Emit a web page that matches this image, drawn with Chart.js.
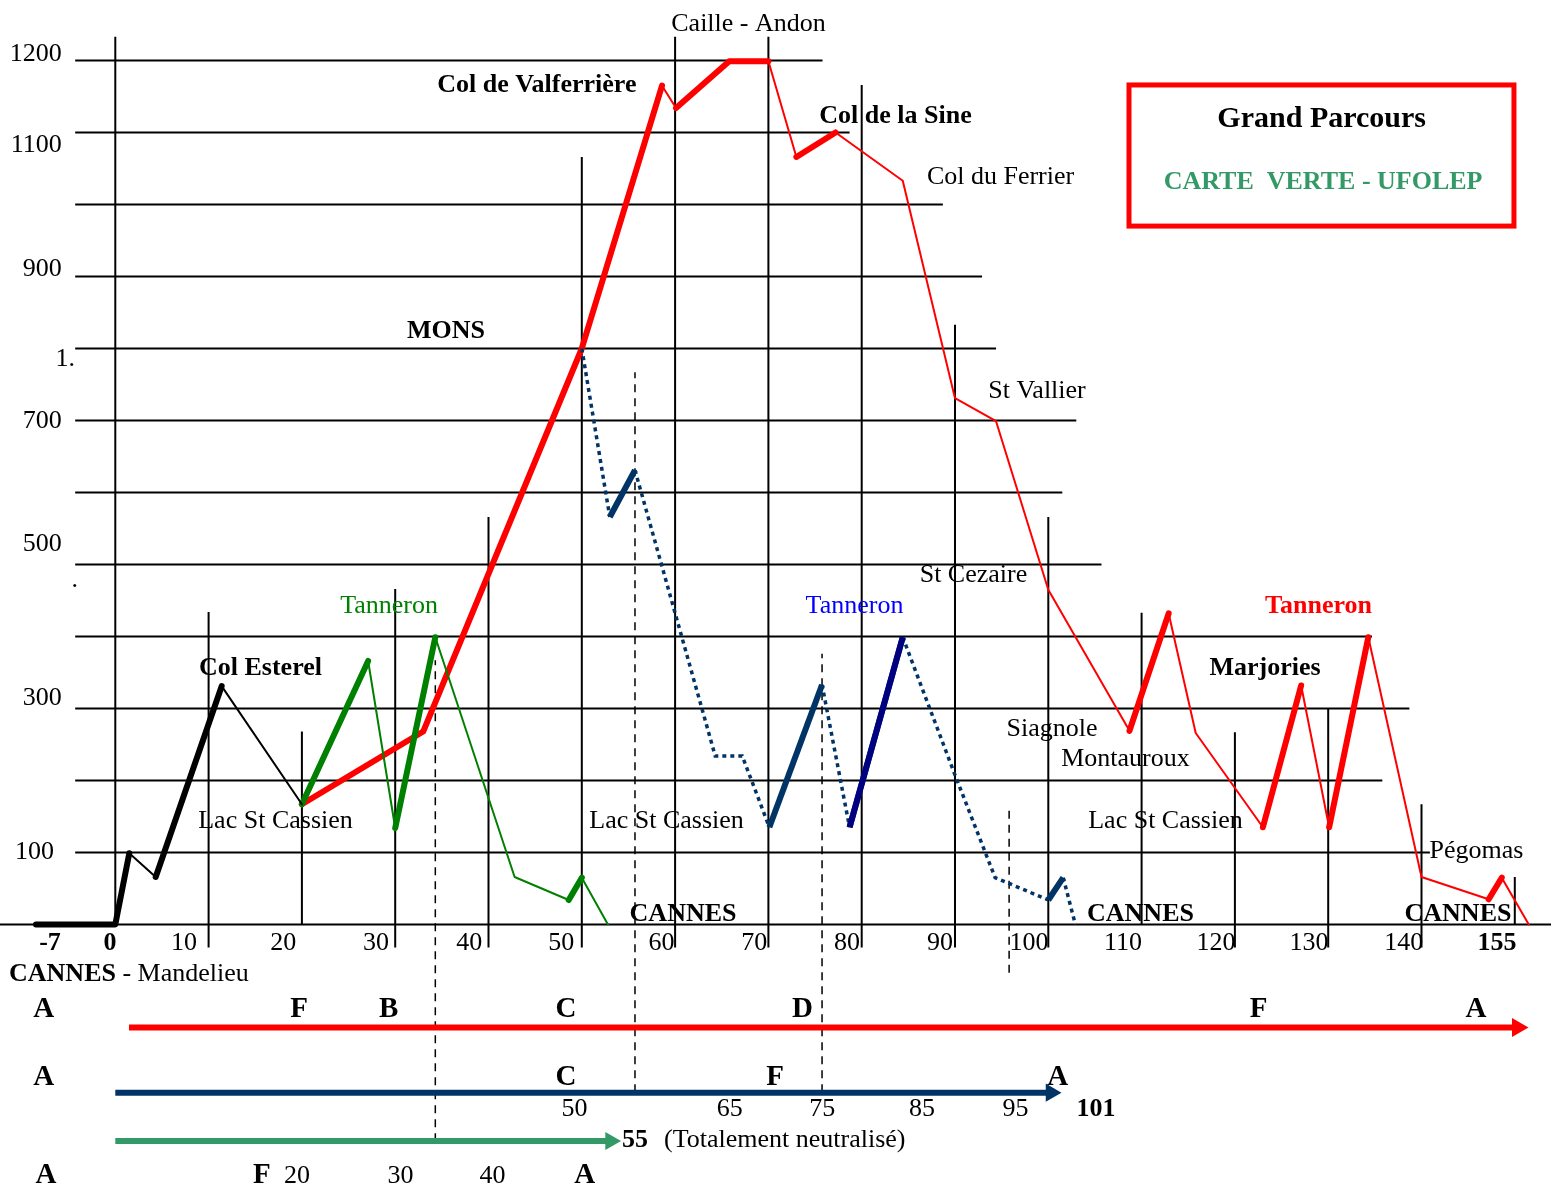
<!DOCTYPE html>
<html>
<head>
<meta charset="utf-8">
<title>Grand Parcours - profil</title>
<script src="https://cdn.jsdelivr.net/npm/chart.js@4.4.1/dist/chart.umd.min.js"></script>
<style>
  html, body { margin: 0; padding: 0; background: #fff; }
  #wrap { width: 1551px; height: 1186px; position: relative; }
</style>
</head>
<body>
<div id="wrap"><canvas id="profile"></canvas></div>
<script>
// km along the route -> altitude (m)
const blackKm  = [-8.5, 0, 1.5, 4.33, 11.4, 20];
const blackAlt = [0, 0, 99, 66, 331, 167];

const greenKm  = [20, 27.1, 30, 34.3, 42.8, 48.6, 50, 52.8];
const greenAlt = [167, 366, 134, 399, 66, 34, 65, 0];

const redKm  = [20, 33, 50, 58.6, 60.1, 65.8, 70, 73, 77.2, 84.4, 90, 94.4, 100, 108.7, 112.9, 115.8, 123, 127.1, 130.1, 134.3, 140, 147.2, 148.6, 151.5];
const redAlt = [167, 268, 800, 1165, 1134, 1199, 1199, 1066, 1100, 1033, 731, 699, 465, 269, 432, 266, 135, 332, 135, 399, 66, 35, 65, 0];

const blueKm  = [50, 53, 55.7, 64.3, 67.2, 70.1, 75.75, 78.7, 84.4, 89.9, 94.3, 95.8, 100, 101.6, 102.9];
const blueAlt = [800, 566, 631, 234, 234, 135, 333, 135, 399, 211, 65, 57, 34, 65, 0];
const navyKm  = [78.7, 84.4];
const navyAlt = [135, 399];

// grid
const gridAlt     = [1200, 1100, 1000, 900, 800, 700, 600, 500, 400, 300, 200, 100, 0];
const gridStartKm = [-4.3, -4.3, -4.3, -4.3, -4.3, -4.3, -4.3, -4.3, -4.3, -4.3, -4.3, -4.3, -12.4];
const gridEndKm   = [75.8, 78.7, 88.7, 92.9, 94.4, 103, 101.5, 105.7, 134.7, 138.7, 135.8, 140.9, 153.9];

const vLineKm     = [0, 10, 20, 30, 40, 50, 60, 70, 80, 90, 100, 110, 120, 130, 140, 150];
const vLineTop    = [1233, 434, 268, 466, 566, 1066, 1233, 1233, 1166, 833, 566, 433, 267, 300, 167, 66];
const vLineBottom = [0, -32, 0, -32, -32, -32, -32, -32, -32, -32, -32, 0, -32, -32, -32, 0];

const dashKm     = [34.3, 55.7, 75.75, 95.8];
const dashTop    = [367, 767, 376, 158];
const dashBottom = [-301, -233, -233, -67];

// routes under the profile (start km, end km)
const redRouteKm   = [1.47, 150.29];
const blueRouteKm  = [0, 100.29];
const greenRouteKm = [0, 53.08];
const routeRowAlt  = [-143, -233.6, -300.7];

// tick labels
const xTickLabels = ["-7", "0", "10", "20", "30", "40", "50", "60", "70", "80", "90", "100", "110", "120", "130", "140", "155"];
const xTickKm     = [-7.0, -0.57, 7.36, 18.0, 27.94, 37.94, 47.81, 58.53, 68.49, 78.42, 88.39, 97.93, 108.0, 117.97, 127.94, 138.1, 148.1];
const yTickLabels = ["1200", "1100", "900", "1.", "700", "500", ".", "300", "100"];
const yTickKm     = [-5.74, -5.74, -5.74, -4.32, -5.74, -5.74, -4.0, -5.74, -6.57];
const yTickAlt    = [1199.3, 1072.9, 900.7, 775.7, 689.6, 518.8, 468.7, 304.9, 91];

const row1Marks = ["A", "F", "B", "C", "D", "F", "A"];
const row1Km    = [-7.66, 19.69, 29.29, 48.31, 73.64, 122.53, 145.83];
const row2Marks = ["A", "C", "F", "A"];
const row2Km    = [-7.66, 48.31, 70.71, 101.0];
const row2Dist  = ["50", "65", "75", "85", "95"];
const row2DistKm = [49.23, 65.87, 75.78, 86.45, 96.48];
const row3Marks = ["A", "F", "20", "30", "40", "A"];
const row3Km    = [-7.43, 15.72, 19.47, 30.57, 40.43, 50.3];

const SERIF = "'Liberation Serif', 'Times New Roman', serif";
const RED = "#ff0000", GREEN = "#008000", SEA = "#339966", DARKBLUE = "#003366", NAVY = "#000080";

const places = [
  { t: "Caille - Andon", km: 67.87, alt: 1241 },
  { t: "Col de Valferrière", km: 45.18, alt: 1156, b: true },
  { t: "Col de la Sine", km: 83.62, alt: 1113, b: true },
  { t: "Col du Ferrier", km: 94.88, alt: 1028.5 },
  { t: "MONS", km: 35.44, alt: 814.6, b: true },
  { t: "St Vallier", km: 98.79, alt: 731 },
  { t: "St Cezaire", km: 91.98, alt: 475.7 },
  { t: "Tanneron", km: 79.23, alt: 432.6, c: "#0000ff" },
  { t: "Tanneron", km: 29.34, alt: 432.6, c: GREEN },
  { t: "Tanneron", km: 128.96, alt: 432.6, c: RED, b: true },
  { t: "Col Esterel", km: 15.56, alt: 346.5, b: true },
  { t: "Marjories", km: 123.23, alt: 346.5, b: true },
  { t: "Siagnole", km: 100.4, alt: 261.8 },
  { t: "Montauroux", km: 108.27, alt: 220 },
  { t: "Lac St Cassien", km: 17.17, alt: 134 },
  { t: "Lac St Cassien", km: 59.08, alt: 134 },
  { t: "Lac St Cassien", km: 112.56, alt: 134 },
  { t: "Pégomas", km: 145.9, alt: 92.4 },
  { t: "CANNES", km: 60.85, alt: 4.9, b: true },
  { t: "CANNES", km: 109.88, alt: 4.9, b: true },
  { t: "CANNES", km: 143.91, alt: 4.9, b: true }
];

function line(xs, ys, opts) {
  return Object.assign({
    data: xs.map((x, i) => ({ x: x, y: ys[i] })),
    borderColor: "#000",
    borderWidth: 2,
    pointRadius: 0,
    fill: false,
    tension: 0,
    order: 5
  }, opts);
}

const climb = c => c.p1.parsed.y >= c.p0.parsed.y;
const datasets = [];

gridAlt.forEach((a, i) => datasets.push(line([gridStartKm[i], gridEndKm[i]], [a, a], { order: 10 })));
vLineKm.forEach((k, i) => datasets.push(line([k, k], [vLineBottom[i], vLineTop[i]], { order: 10 })));
dashKm.forEach((k, i) => datasets.push(line([k, k], [dashBottom[i], dashTop[i]], { borderWidth: 1.5, borderDash: [8, 6], order: 9 })));

datasets.push(line(redKm, redAlt, {
  borderColor: RED, borderCapStyle: "round", borderJoinStyle: "round",
  segment: { borderWidth: c => climb(c) ? 6 : 2 }, order: 4
}));
datasets.push(line(blackKm, blackAlt, {
  borderCapStyle: "round", borderJoinStyle: "round",
  segment: { borderWidth: c => climb(c) ? 6 : 2 }, order: 3
}));
datasets.push(line(greenKm, greenAlt, {
  borderColor: GREEN, borderCapStyle: "round", borderJoinStyle: "round",
  segment: { borderWidth: c => climb(c) ? 6 : 2 }, order: 3
}));
datasets.push(line(blueKm, blueAlt, {
  borderColor: DARKBLUE,
  segment: {
    borderWidth: c => c.p1.parsed.y > c.p0.parsed.y ? 6 : 3.5,
    borderDash: c => c.p1.parsed.y > c.p0.parsed.y ? [] : [4, 4]
  },
  order: 2
}));
datasets.push(line(navyKm, navyAlt, { borderColor: NAVY, borderWidth: 6, order: 1 }));

function arrow(km, alt, color, r) {
  return line(km, [alt, alt], {
    borderColor: color, borderWidth: 6, order: 6,
    pointStyle: "triangle", pointRotation: 90,
    pointRadius: [0, r], pointBackgroundColor: color, pointBorderColor: color, pointBorderWidth: 0
  });
}
datasets.push(arrow(redRouteKm, routeRowAlt[0], RED, 11));
datasets.push(arrow(blueRouteKm, routeRowAlt[1], DARKBLUE, 10.5));
datasets.push(arrow(greenRouteKm, routeRowAlt[2], SEA, 10.5));

const textPlugin = {
  id: "profileText",
  afterDatasetsDraw(chart) {
    const { ctx, scales: { x, y } } = chart;
    const put = (txt, km, alt, font, color, align) => {
      ctx.font = font;
      ctx.fillStyle = color || "#000";
      ctx.textAlign = align || "center";
      ctx.textBaseline = "alphabetic";
      ctx.fillText(txt, x.getPixelForValue(km), y.getPixelForValue(alt));
    };
    const N = "26px " + SERIF, B = "bold 26px " + SERIF, L = "bold 29px " + SERIF;
    ctx.save();

    places.forEach(p => put(p.t, p.km, p.alt, p.b ? B : N, p.c));

    xTickLabels.forEach((t, i) => {
      const bold = t === "-7" || t === "0" || t === "155";
      put(t, xTickKm[i], -35.4, bold ? B : N);
    });
    yTickLabels.forEach((t, i) => put(t, yTickKm[i], yTickAlt[i], N, "#000", "right"));

    // CANNES - Mandelieu
    put("CANNES", -11.39, -78.5, B, "#000", "left");
    ctx.font = B;
    const w = ctx.measureText("CANNES").width;
    ctx.font = N;
    ctx.fillText(" - Mandelieu", x.getPixelForValue(-11.39) + w, y.getPixelForValue(-78.5));

    row1Marks.forEach((t, i) => put(t, row1Km[i], -128.5, L));
    row2Marks.forEach((t, i) => put(t, row2Km[i], -222.9, L));
    row2Dist.forEach((t, i) => put(t, row2DistKm[i], -266, N));
    put("101", 105.11, -266, B);
    put("55", 54.31, -309, B, "#000", "left");
    put("(Totalement neutralisé)", 58.81, -309, N, "#000", "left");
    row3Marks.forEach((t, i) => put(t, row3Km[i], -358.6, /\d/.test(t) ? N : L));

    // title box
    const bx0 = x.getPixelForValue(108.65), bx1 = x.getPixelForValue(149.91);
    const by0 = y.getPixelForValue(1166), by1 = y.getPixelForValue(970);
    ctx.strokeStyle = RED;
    ctx.lineWidth = 5;
    ctx.strokeRect(bx0, by0, bx1 - bx0, by1 - by0);
    put("Grand Parcours", 129.3, 1108, "bold 30px " + SERIF);
    put("CARTE  VERTE - UFOLEP", 129.45, 1021, B, SEA);

    ctx.restore();
  }
};

new Chart(document.getElementById("profile").getContext("2d"), {
  type: "line",
  data: { datasets: datasets },
  options: {
    responsive: true,
    maintainAspectRatio: false,
    animation: false,
    layout: { padding: 0, autoPadding: false },
    plugins: { legend: { display: false }, tooltip: { enabled: false } },
    scales: {
      x: { type: "linear", min: -12.358, max: 153.88, display: false },
      y: { type: "linear", min: -363.2, max: 1284.0, display: false }
    }
  },
  plugins: [textPlugin]
});
</script>
</body>
</html>
